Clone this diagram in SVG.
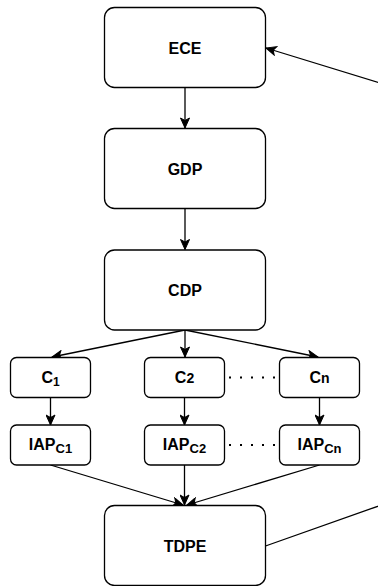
<svg xmlns="http://www.w3.org/2000/svg" width="378" height="586" viewBox="0 0 378 586">
<defs>
<marker id="arr" markerUnits="userSpaceOnUse" markerWidth="12" markerHeight="10" viewBox="0 0 12 10" refX="11" refY="5" orient="auto">
<path d="M1,0.5 L11,5 L1,9.5 L3.5,5 Z" fill="#000" stroke="#000" stroke-width="1"/>
</marker>
</defs>
<style>
.box{fill:#fff;stroke:#000;stroke-width:1.3}
.t{font-family:"Liberation Sans",Arial,sans-serif;font-weight:bold;font-size:16px;text-anchor:middle;fill:#000}
.e{fill:none;stroke:#000;stroke-width:1.3}
.dot{fill:none;stroke:#000;stroke-width:2;stroke-dasharray:2 9}
</style>
<g id="connectors">
<path class="e" d="M185,87.5 L185,128" marker-end="url(#arr)"/>
<path class="e" d="M185,208.5 L185,249.5" marker-end="url(#arr)"/>
<path class="e" d="M185,330 L52,357" marker-end="url(#arr)"/>
<path class="e" d="M185,330 L185,357" marker-end="url(#arr)"/>
<path class="e" d="M185,330 L318,357" marker-end="url(#arr)"/>
<path class="e" d="M50.5,398 L50.5,425" marker-end="url(#arr)"/>
<path class="e" d="M184.5,398 L184.5,425" marker-end="url(#arr)"/>
<path class="e" d="M319.5,398 L319.5,425" marker-end="url(#arr)"/>
<path class="e" d="M50.5,465 L183,505" marker-end="url(#arr)"/>
<path class="e" d="M184.5,465 L184.5,505" marker-end="url(#arr)"/>
<path class="e" d="M319.5,465 L187,505" marker-end="url(#arr)"/>
<path class="e" d="M265.5,546 L1020,279 L266,48" marker-end="url(#arr)"/>
<path class="dot" d="M229,377.5 L279,377.5"/>
<path class="dot" d="M229,445 L279,445"/>
</g>
<g id="ECE"><rect class="box" x="104.5" y="7.5" width="161" height="80" rx="10"/><text class="t" x="185" y="53.5">ECE</text></g>
<g id="GDP"><rect class="box" x="104.5" y="128.5" width="161" height="80" rx="10"/><text class="t" x="185" y="174.5">GDP</text></g>
<g id="CDP"><rect class="box" x="104.5" y="250" width="161" height="80" rx="10"/><text class="t" x="185" y="296">CDP</text></g>
<g id="C1"><rect class="box" x="10.5" y="357.5" width="80" height="40" rx="6"/><text class="t" x="50.5" y="383">C<tspan font-size="12" dy="3">1</tspan></text></g>
<g id="C2"><rect class="box" x="144.5" y="357.5" width="80" height="40" rx="6"/><text class="t" x="184.5" y="383">C<tspan font-size="14">2</tspan></text></g>
<g id="Cn"><rect class="box" x="279.5" y="357.5" width="80" height="40" rx="6"/><text class="t" x="319.5" y="383">C<tspan font-size="14">n</tspan></text></g>
<g id="IAPC1"><rect class="box" x="10.5" y="425" width="80" height="40" rx="6"/><text class="t" x="50.5" y="449.5">IAP<tspan font-size="13" dy="3">C1</tspan></text></g>
<g id="IAPC2"><rect class="box" x="144.5" y="425" width="80" height="40" rx="6"/><text class="t" x="184.5" y="449.5">IAP<tspan font-size="13" dy="3">C2</tspan></text></g>
<g id="IAPCn"><rect class="box" x="279.5" y="425" width="80" height="40" rx="6"/><text class="t" x="319.5" y="449.5">IAP<tspan font-size="13" dy="3">Cn</tspan></text></g>
<g id="TDPE"><rect class="box" x="104.5" y="505.5" width="161" height="80" rx="10"/><text class="t" x="185" y="551.5">TDPE</text></g>
</svg>
